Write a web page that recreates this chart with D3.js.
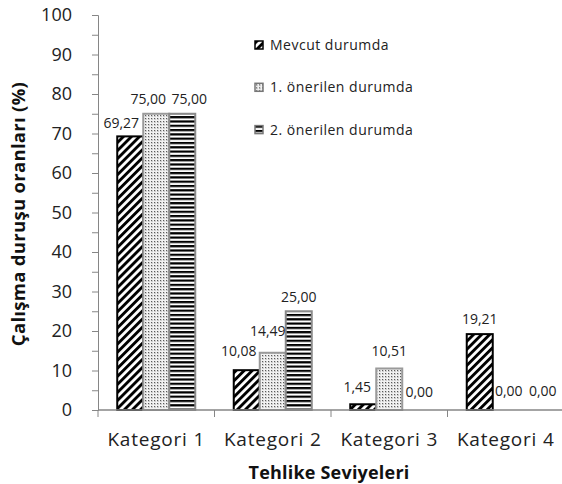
<!DOCTYPE html>
<html>
<head>
<meta charset="utf-8">
<script src="https://cdn.jsdelivr.net/npm/d3@7"></script>
<style>
  body { margin: 0; background: #fff; }
  svg { display: block; font-family: "Open Sans", sans-serif; }
</style>
</head>
<body>
<svg id="chart"></svg>
<script>
// data
const categories = ["Kategori 1", "Kategori 2", "Kategori 3", "Kategori 4"];
const seriesNames = ["Mevcut durumda", "1. önerilen durumda", "2. önerilen durumda"];
const mevcut = [69.27, 10.08, 1.45, 19.21];
const oneri1 = [75.00, 14.49, 10.51, 0.00];
const oneri2 = [75.00, 25.00, 0.00, 0.00];
const yTicks = [0, 10, 20, 30, 40, 50, 60, 70, 80, 90, 100];

// label nudges (px) so overlapping labels separate like the original
const labelNudge = [
  [[-9, 2], [-8, 0], [7, 0]],
  [[-8, -4], [-5, -7], [0, 1]],
  [[-6, -2], [0, -2], [4, -3]],
  [[0, 0], [3, -4], [11, -4]]
];

const values = [mevcut, oneri1, oneri2];
const rows = [];
categories.forEach((c, i) => {
  seriesNames.forEach((s, j) => rows.push({ cat: c, ci: i, ser: s, si: j, v: values[j][i] }));
});

const W = 562, H = 484;
const plot = { left: 98, right: 564, top: 15, bottom: 410 };

const svg = d3.select("#chart").attr("width", W).attr("height", H);

// patterns
const defs = svg.append("defs");
const diag = defs.append("pattern").attr("id", "p-diag")
  .attr("patternUnits", "userSpaceOnUse").attr("width", 5.7).attr("height", 5.7)
  .attr("patternTransform", "rotate(45)");
diag.append("rect").attr("width", 5.7).attr("height", 5.7).attr("fill", "#fff");
diag.append("rect").attr("width", 2.9).attr("height", 5.7).attr("fill", "#000");

const dots = defs.append("pattern").attr("id", "p-dots")
  .attr("patternUnits", "userSpaceOnUse").attr("width", 3).attr("height", 3);
dots.append("rect").attr("width", 3).attr("height", 3).attr("fill", "#cdcdcd");
dots.append("rect").attr("width", 3).attr("height", 1).attr("fill", "#f2f2f2");
dots.append("rect").attr("width", 1).attr("height", 3).attr("fill", "#f2f2f2");
dots.append("rect").attr("x", 1).attr("y", 1).attr("width", 1).attr("height", 1).attr("fill", "#5a5a5a");

const hor = defs.append("pattern").attr("id", "p-hor")
  .attr("patternUnits", "userSpaceOnUse").attr("width", 4).attr("height", 4.3);
hor.append("rect").attr("width", 4).attr("height", 4.3).attr("fill", "#fff");
hor.append("rect").attr("width", 4).attr("height", 2.2).attr("fill", "#000");

const fills = ["url(#p-diag)", "url(#p-dots)", "url(#p-hor)"];
const strokes = ["#000", "#9a9a9a", "#8a8a8a"];

// scales
const x = d3.scaleBand().domain(categories).range([plot.left, plot.right]).padding(0);
const xs = d3.scaleBand().domain(seriesNames).range([0, x.bandwidth()])
  .paddingInner(0).paddingOuter(0.74);
const y = d3.scaleLinear().domain([0, 100]).range([plot.bottom, plot.top]);

const axisColor = "#868686";

// y axis
const yAxis = svg.append("g").attr("transform", `translate(${plot.left},0)`)
  .call(d3.axisLeft(y).tickValues(yTicks).tickSize(6).tickPadding(20).tickFormat(d3.format("d")));
yAxis.select(".domain").attr("stroke", axisColor);
yAxis.selectAll(".tick line").attr("stroke", axisColor);
yAxis.selectAll(".tick text").attr("font-size", 18).attr("fill", "#222")
  .attr("font-family", "Open Sans, sans-serif");

const yMinor = svg.append("g").attr("transform", `translate(${plot.left},0)`)
  .call(d3.axisLeft(y).tickValues(yTicks.slice(0, -1).map(t => t + 5)).tickSize(6).tickFormat(""));
yMinor.select(".domain").remove();
yMinor.selectAll(".tick line").attr("stroke", axisColor);

// bars
svg.append("g").selectAll("rect").data(rows).enter().append("rect")
  .attr("x", d => x(d.cat) + xs(d.ser))
  .attr("y", d => y(d.v))
  .attr("width", xs.bandwidth())
  .attr("height", d => y(0) - y(d.v))
  .attr("fill", d => fills[d.si])
  .attr("stroke", d => strokes[d.si])
  .attr("stroke-width", 2);

// x axis line and category ticks
svg.append("line").attr("x1", plot.left).attr("x2", plot.right)
  .attr("y1", plot.bottom).attr("y2", plot.bottom)
  .attr("stroke", axisColor).attr("stroke-width", 1.5);
svg.append("g").selectAll("line").data(categories).enter().append("line")
  .attr("x1", d => x(d)).attr("x2", d => x(d))
  .attr("y1", plot.bottom).attr("y2", plot.bottom + 7)
  .attr("stroke", axisColor);

svg.append("g").selectAll("text").data(categories).enter().append("text")
  .attr("x", d => x(d) + x.bandwidth() / 2)
  .attr("y", 446)
  .attr("text-anchor", "middle")
  .attr("font-size", 19)
  .attr("letter-spacing", 0.8)
  .attr("fill", "#222")
  .text(d => d);

// value labels
const fmt = v => d3.format(".2f")(v).replace(".", ",");
svg.append("g").selectAll("text").data(rows).enter().append("text")
  .attr("x", d => x(d.cat) + xs(d.ser) + xs.bandwidth() / 2 + labelNudge[d.ci][d.si][0])
  .attr("y", d => y(d.v) - 10 + labelNudge[d.ci][d.si][1])
  .attr("text-anchor", "middle")
  .attr("font-size", 14)
  .attr("fill", "#222")
  .text(d => fmt(d.v));

// axis titles
svg.append("text")
  .attr("transform", `translate(25,214) rotate(-90)`)
  .attr("text-anchor", "middle")
  .attr("font-size", 18.5)
  .attr("letter-spacing", 0.3)
  .attr("font-weight", "bold")
  .attr("fill", "#111")
  .text("Çalışma duruşu oranları (%)");

svg.append("text")
  .attr("x", 329).attr("y", 479)
  .attr("text-anchor", "middle")
  .attr("font-size", 18)
  .attr("letter-spacing", 0.2)
  .attr("font-weight", "bold")
  .attr("fill", "#111")
  .text("Tehlike Seviyeleri");

// legend
const legend = svg.append("g").attr("transform", "translate(255,41)");
const lg = legend.selectAll("g").data(seriesNames).enter().append("g")
  .attr("transform", (d, i) => `translate(0,${i * 42.3})`);
lg.append("rect").attr("width", 8).attr("height", 8)
  .attr("fill", (d, i) => fills[i])
  .attr("stroke", (d, i) => i === 0 ? "#000" : "#777")
  .attr("stroke-width", 1.5);
lg.append("text").attr("x", 15).attr("y", 9)
  .attr("font-size", 14)
  .attr("letter-spacing", 0.5)
  .attr("fill", "#222")
  .text(d => d);
</script>
</body>
</html>
